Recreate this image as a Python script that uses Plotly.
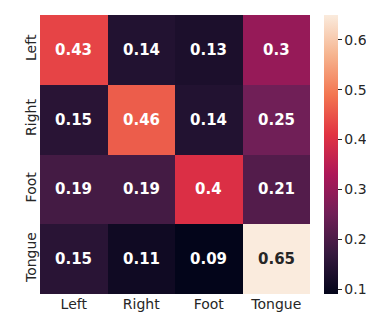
import plotly.graph_objects as go

classes = ["Left", "Right", "Foot", "Tongue"]
values = [
    [0.43, 0.14, 0.13, 0.30],
    [0.15, 0.46, 0.14, 0.25],
    [0.19, 0.19, 0.40, 0.21],
    [0.15, 0.11, 0.09, 0.65],
]
cbar_ticks = [0.1, 0.2, 0.3, 0.4, 0.5, 0.6]

rocket = [
    [0.0, "#03051a"],
    [1/7, "#35193e"],
    [2/7, "#701f57"],
    [3/7, "#ad1759"],
    [4/7, "#e13342"],
    [5/7, "#f37651"],
    [6/7, "#f6b48f"],
    [1.0, "#faebdd"],
]

vmin = min(min(r) for r in values)
vmax = max(max(r) for r in values)

fig = go.Figure(go.Heatmap(
    z=values, x=classes, y=classes,
    colorscale=rocket, zmin=vmin, zmax=vmax,
    showscale=True,
    colorbar=dict(
        thickness=14, len=1.0, lenmode="fraction", y=0.5, yanchor="middle",
        x=(316 - 32) / 270, xanchor="left", xpad=0, ypad=0,
        outlinewidth=0, tickvals=cbar_ticks, ticks="outside", ticklen=4,
        tickcolor="#262626", tickfont=dict(family="DejaVu Sans", size=14, color="#262626"),
    ),
    hoverinfo="skip",
))

for i, row in enumerate(values):
    for j, v in enumerate(row):
        fig.add_annotation(
            x=classes[j], y=classes[i], text=f"<b>{v:.2g}</b>", showarrow=False,
            font=dict(family="DejaVu Sans", size=15,
                      color="#262626" if v > 0.55 else "white"),
        )

fig.update_xaxes(showgrid=False, zeroline=False, ticks="", showline=False,
                 tickfont=dict(family="DejaVu Sans", size=14, color="#262626"))
fig.update_yaxes(autorange="reversed", showgrid=False, zeroline=False, ticks="",
                 showline=False, tickangle=-90,
                 tickfont=dict(family="DejaVu Sans", size=14, color="#262626"))

fig.update_layout(
    width=374, height=318,
    margin=dict(l=32, r=72, t=7, b=32, autoexpand=False),
    paper_bgcolor="white", plot_bgcolor="white",
)

fig.write_html("out.html")
